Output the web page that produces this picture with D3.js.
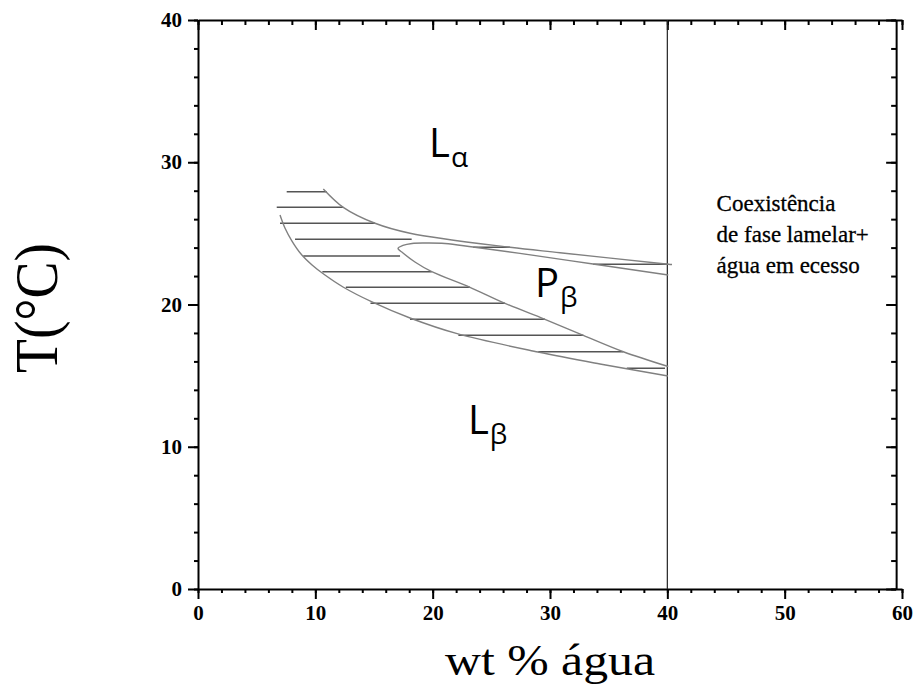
<!DOCTYPE html>
<html>
<head>
<meta charset="utf-8">
<script src="https://cdn.jsdelivr.net/npm/d3@7"></script>
<style>
  body { margin: 0; background: #fff; }
  svg { display: block; }
  .axis path, .axis line { stroke: #000; stroke-width: 2; }
  .axis text { font-family: "Liberation Serif", serif; font-weight: bold; font-size: 21px; fill: #000; }
</style>
</head>
<body>
<script>
// tick labels
var xTickLabels = [0, 10, 20, 30, 40, 50, 60];
var yTickLabels = [0, 10, 20, 30, 40];

// phase boundaries (wt % water, T in C)
var upperBoundary = [[10.68, 28.12], [12.38, 26.83], [15.09, 25.71], [18.07, 25.01], [26.59, 24.02], [30.85, 23.64], [40.08, 22.83], [40.4, 22.81]];
var innerLoop = [[40.08, 22.07], [33.67, 22.85], [27.44, 23.59], [23.44, 24.04], [21.05, 24.29], [19.35, 24.32], [18.24, 24.29], [17.47, 24.15], [17.05, 23.94],
                 [17.47, 23.62], [18.49, 22.99], [19.92, 22.31], [23.18, 21.21], [26.17, 20.08], [29.57, 18.96], [32.84, 17.83], [36.25, 16.68], [40.08, 15.64]];
var lowerBoundary = [[6.99, 26.29], [7.41, 25.38], [8.01, 24.46], [8.78, 23.55], [9.72, 22.78], [10.82, 22.07], [12.36, 21.23], [14.83, 20.18],
                     [18.07, 19.05], [22.16, 17.93], [28.98, 16.66], [34.26, 15.82], [40.06, 14.97]];

// tie lines [from, to, T]
var hatches = [[7.56, 10.97, 27.93], [6.71, 12.38, 26.83], [6.99, 15.09, 25.71], [8.27, 18.21, 24.58], [23.46, 26.59, 24.02], [33.69, 40.08, 22.83],
               [8.97, 17.22, 23.41], [10.6, 19.92, 22.31], [12.6, 23.18, 21.21], [14.7, 26.17, 20.08], [18.07, 29.57, 18.96], [22.19, 32.84, 17.83],
               [29.0, 36.25, 16.68], [36.54, 39.8, 15.51]];

var excessWater = 40;

var phaseLabels = [["L", "α", 19.69, 30.37], ["P", "β", 28.72, 20.55], ["L", "β", 23.01, 10.9]];
var noteLines = ["Coexistência", "de fase lamelar+", "água em ecesso"];
var notePos = [44.2, [26.57, 24.39, 22.21]];

var W = 917, H = 689;
var svg = d3.select("body").append("svg")
    .attr("width", W)
    .attr("height", H);

var x = d3.scaleLinear().domain([0, 60]).range([198, 902]);
var y = d3.scaleLinear().domain([0, 40]).range([589, 20]);

var minorX = d3.range(0, 61, 2), minorY = d3.range(0, 41, 2);

// axes: minor ticks first, then major ticks with labels
function addAxis(axisFn, scale, tr, minor, major, size, labels) {
    svg.append("g").attr("class", "axis").attr("transform", tr)
        .call(axisFn(scale).tickValues(minor).tickSize(size[0]).tickFormat("").tickSizeOuter(0));
    var g = svg.append("g").attr("class", "axis").attr("transform", tr)
        .call(axisFn(scale).tickValues(major).tickSize(size[1]).tickSizeOuter(0).tickPadding(6)
            .tickFormat(labels ? d3.format("d") : ""));
    g.select(".domain").remove();
    return g;
}
addAxis(d3.axisBottom, x, "translate(0," + y(0) + ")", minorX, xTickLabels, [4, 10], true);
addAxis(d3.axisTop, x, "translate(0," + y(40) + ")", minorX, xTickLabels, [-5, -10], false);
addAxis(d3.axisLeft, y, "translate(" + x(0) + ",0)", minorY, yTickLabels, [4, 10], true);
addAxis(d3.axisRight, y, "translate(" + x(59.5) + ",0)", minorY, yTickLabels, [-5, -10], false);

// water excess boundary
svg.append("line")
    .attr("x1", x(excessWater)).attr("x2", x(excessWater))
    .attr("y1", y(40)).attr("y2", y(0))
    .attr("stroke", "#222").attr("stroke-width", 1.2);

// hatching
svg.selectAll(".hatch")
    .data(hatches)
  .enter().append("line")
    .attr("class", "hatch")
    .attr("x1", function(d){ return x(d[0]); })
    .attr("x2", function(d){ return x(d[1]); })
    .attr("y1", function(d){ return y(d[2]); })
    .attr("y2", function(d){ return y(d[2]); })
    .attr("stroke", "#555").attr("stroke-width", 1.5);

// curves
var line = d3.line()
    .x(function(d){ return x(d[0]); })
    .y(function(d){ return y(d[1]); })
    .curve(d3.curveCatmullRom.alpha(0.5));

svg.selectAll(".boundary")
    .data([upperBoundary, innerLoop, lowerBoundary])
  .enter().append("path")
    .attr("class", "boundary")
    .attr("d", line)
    .attr("fill", "none")
    .attr("stroke", "#808080")
    .attr("stroke-width", 1.4);

// phase names
var pl = svg.selectAll(".phase")
    .data(phaseLabels)
  .enter().append("text")
    .attr("class", "phase")
    .attr("x", function(d){ return x(d[2]); })
    .attr("y", function(d){ return y(d[3]); })
    .style("font-family", "'Open Sans', sans-serif")
    .style("font-size", "40px");
pl.append("tspan").text(function(d){ return d[0]; });
pl.append("tspan")
    .attr("dy", 10)
    .attr("dx", 1)
    .style("font-size", "28px")
    .text(function(d){ return d[1]; });

// note on the right
svg.selectAll(".note")
    .data(noteLines)
  .enter().append("text")
    .attr("class", "note")
    .attr("x", x(notePos[0]))
    .attr("y", function(d, i){ return y(notePos[1][i]); })
    .style("font-family", "'Liberation Serif', serif")
    .style("font-size", "23px")
    .style("stroke", "#000").style("stroke-width", 0.3)
    .text(function(d){ return d; });

// axis titles
svg.append("text")
    .attr("x", 550).attr("y", 675)
    .attr("text-anchor", "middle")
    .attr("textLength", 210).attr("lengthAdjust", "spacingAndGlyphs")
    .style("font-family", "'Liberation Serif', serif")
    .style("font-size", "44px")
    .text("wt % água");

svg.append("text")
    .attr("transform", "translate(57,308) rotate(-90)")
    .attr("text-anchor", "middle")
    .attr("textLength", 130).attr("lengthAdjust", "spacingAndGlyphs")
    .style("font-family", "'Liberation Serif', serif")
    .style("font-size", "62px")
    .text("T(°C)");
</script>
</body>
</html>
